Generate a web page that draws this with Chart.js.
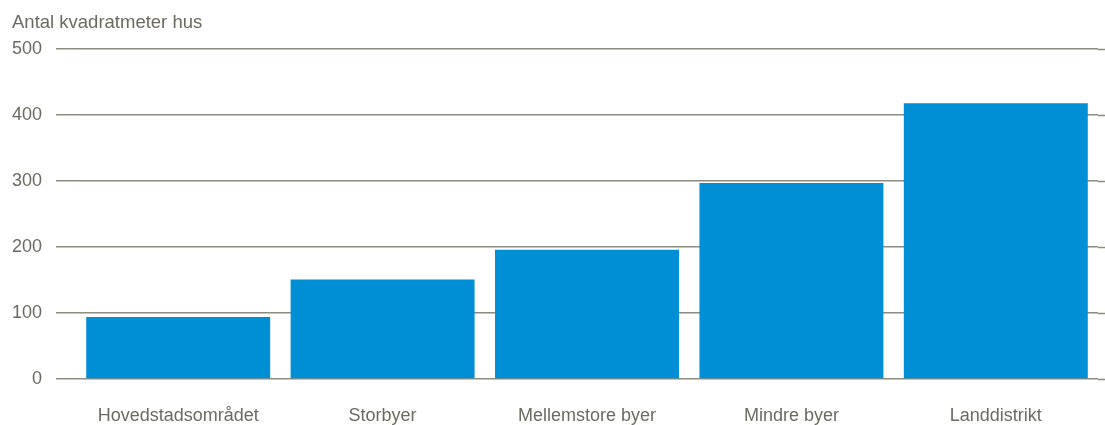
<!DOCTYPE html>
<html>
<head>
<meta charset="utf-8">
<script src="https://cdn.jsdelivr.net/npm/chart.js@4/dist/chart.umd.min.js"></script>
<style>
  html, body { margin: 0; padding: 0; background: #ffffff; }
  #wrap { width: 1105px; height: 425px; position: relative; }
</style>
</head>
<body>
<div id="wrap"><canvas id="c"></canvas></div>
<script>
const categories = ["Hovedstadsområdet", "Storbyer", "Mellemstore byer", "Mindre byer", "Landdistrikt"];
const values = [94, 151, 196, 297, 418];
const yTicks = [0, 100, 200, 300, 400, 500];
const titleText = "Antal kvadratmeter hus";

const textColor = "#6b6b61";
const gridColor = "#8c8c80";
const barColor = "#008fd5";

Chart.defaults.font.family = "'Liberation Sans', Arial, sans-serif";
Chart.defaults.font.size = 18;
Chart.defaults.color = textColor;

new Chart(document.getElementById("c"), {
  type: "bar",
  data: {
    labels: categories,
    datasets: [{
      data: values,
      backgroundColor: barColor,
      borderWidth: 0,
      categoryPercentage: 0.9,
      barPercentage: 1.0
    }]
  },
  options: {
    responsive: true,
    maintainAspectRatio: false,
    animation: false,
    layout: { padding: { left: 12, right: 0, top: 0, bottom: 0 } },
    plugins: {
      legend: { display: false },
      tooltip: { enabled: false },
      title: {
        display: true,
        text: titleText,
        align: "start",
        color: textColor,
        font: { size: 18.5, weight: "normal" },
        padding: { top: 12, bottom: 15 }
      }
    },
    scales: {
      x: {
        grid: { display: false, drawTicks: false },
        border: { display: false },
        ticks: { color: textColor, padding: 26, font: { size: 18 }, maxRotation: 0 },
        afterFit: (axis) => { axis.height = 46; }
      },
      y: {
        min: 0,
        max: 500,
        afterBuildTicks: (axis) => { axis.ticks = yTicks.map(v => ({ value: v })); },
        grid: { color: gridColor, lineWidth: 1.5, tickLength: 20, drawTicks: true, tickColor: gridColor, tickWidth: 1.5 },
        border: { display: false },
        ticks: { color: textColor, padding: 14, font: { size: 18 } },
        afterFit: (axis) => { axis.width = 64; }
      },
      y2: {
        position: "right",
        min: 0,
        max: 500,
        afterBuildTicks: (axis) => { axis.ticks = yTicks.map(v => ({ value: v })); },
        grid: { drawOnChartArea: false, tickLength: 7, drawTicks: true, tickColor: gridColor, tickWidth: 1.5 },
        border: { display: false },
        ticks: { display: false },
        afterFit: (axis) => { axis.width = 7; }
      }
    }
  }
});
</script>
</body>
</html>
